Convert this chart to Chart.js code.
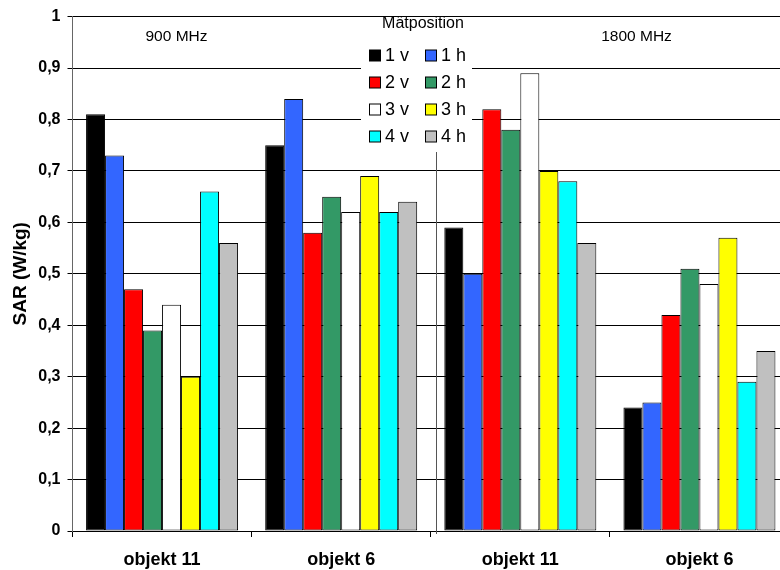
<!DOCTYPE html>
<html>
<head>
<meta charset="utf-8">
<script src="https://cdn.jsdelivr.net/npm/chart.js@4/dist/chart.umd.min.js"></script>
<style>
html,body{margin:0;padding:0;background:#fff;overflow:hidden;}
#wrap{width:780px;height:570px;position:relative;overflow:hidden;}
canvas{display:block;}
</style>
</head>
<body>
<div id="wrap"><canvas id="c" width="789" height="570"></canvas></div>
<script>
const categories = ['objekt 11', 'objekt 6', 'objekt 11', 'objekt 6'];
const seriesLabels = ['1 v', '1 h', '2 v', '2 h', '3 v', '3 h', '4 v', '4 h'];
const seriesColors = ['#000000', '#3366FF', '#FF0000', '#339966', '#FFFFFF', '#FFFF00', '#00FFFF', '#C0C0C0'];
const s1v = [0.81, 0.75, 0.59, 0.24];
const s1h = [0.73, 0.84, 0.50, 0.25];
const s2v = [0.47, 0.58, 0.82, 0.42];
const s2h = [0.39, 0.65, 0.78, 0.51];
const s3v = [0.44, 0.62, 0.89, 0.48];
const s3h = [0.30, 0.69, 0.70, 0.57];
const s4v = [0.66, 0.62, 0.68, 0.29];
const s4h = [0.56, 0.64, 0.56, 0.35];
const yTickLabels = ['0', '0,1', '0,2', '0,3', '0,4', '0,5', '0,6', '0,7', '0,8', '0,9', '1'];
const bandLabels = ['900 MHz', '1800 MHz'];
const legendTitle = 'Mätposition';
const yTitle = 'SAR (W/kg)';

const seriesValues = [s1v, s1h, s2v, s2h, s3v, s3h, s4v, s4h];
const FONT = '"Liberation Sans", Arial, Helvetica, sans-serif';

const datasets = seriesLabels.map((lab, i) => ({
  label: lab,
  data: seriesValues[i],
  backgroundColor: seriesColors[i],
  borderColor: '#000000',
  borderWidth: 1,
  borderSkipped: false,
  inflateAmount: 0,
  barThickness: 19
}));

const overlay = {
  id: 'overlay',
  afterDatasetsDraw(chart) {
    const ctx = chart.ctx;
    const ca = chart.chartArea;
    const xs = chart.scales.x;
    ctx.save();
    // separator between 900 MHz and 1800 MHz
    const sepX = Math.round(xs.getPixelForValue(1.5)) + 5.5;
    ctx.strokeStyle = '#555555';
    ctx.lineWidth = 1;
    ctx.beginPath();
    ctx.moveTo(sepX, ca.top);
    ctx.lineTo(sepX, ca.bottom + 3);
    ctx.stroke();

    // band labels
    ctx.fillStyle = '#000';
    ctx.font = '15.5px ' + FONT;
    ctx.textAlign = 'center';
    ctx.textBaseline = 'middle';
    ctx.fillText(bandLabels[0], ca.left + 104, ca.top + 20);
    ctx.fillText(bandLabels[1], ca.left + 564, ca.top + 20);

    // legend
    const lx = 361, ly = 17, lw = 111, lh = 135;
    ctx.fillStyle = '#ffffff';
    ctx.fillRect(lx, ly, lw, lh);
    ctx.fillStyle = '#000';
    ctx.font = '16px ' + FONT;
    ctx.textAlign = 'center';
    ctx.fillText(legendTitle, 423, 24);
    ctx.font = '18px ' + FONT;
    ctx.textAlign = 'left';
    chart.data.datasets.forEach((ds, i) => {
      const col = i % 2, row = Math.floor(i / 2);
      const bx = col === 0 ? 369 : 425;
      const cy = 55.5 + row * 27;
      ctx.fillStyle = ds.backgroundColor;
      ctx.fillRect(bx + 0.5, cy - 5.5, 11, 11);
      ctx.strokeStyle = '#000';
      ctx.lineWidth = 1;
      ctx.strokeRect(bx + 0.5, cy - 5.5, 11, 11);
      ctx.fillStyle = '#000';
      ctx.fillText(ds.label, bx + 16, cy + 1);
    });
    ctx.restore();
  }
};

new Chart(document.getElementById('c'), {
  type: 'bar',
  data: { labels: categories, datasets: datasets },
  options: {
    responsive: false,
    animation: false,
    devicePixelRatio: 1,
    layout: { padding: { top: 15, right: 0, bottom: 0, left: 0 } },
    plugins: { legend: { display: false }, tooltip: { enabled: false } },
    scales: {
      x: {
        offset: true,
        grid: { display: true, drawOnChartArea: false, drawTicks: true, tickLength: 6, offset: true, color: '#000' },
        border: { display: true, color: '#000', width: 1 },
        ticks: { color: '#000', font: { family: FONT, size: 18, weight: 'bold' }, padding: 12, maxRotation: 0 },
        afterFit(scale) { scale.height = 39; }
      },
      y: {
        min: 0, max: 1,
        ticks: {
          stepSize: 0.1,
          color: '#000',
          font: { family: FONT, size: 16, weight: 'bold' },
          padding: 7,
          callback: (v, i) => yTickLabels[i]
        },
        grid: { color: '#000', lineWidth: 1, tickLength: 5, drawTicks: true },
        border: { display: true, color: '#666', width: 1 },
        title: { display: true, text: yTitle, color: '#000', font: { family: FONT, size: 19, weight: 'bold' }, padding: { top: 9, bottom: 4 } },
        afterFit(scale) { scale.width = 72.5; }
      }
    }
  },
  plugins: [overlay]
});
</script>
</body>
</html>
